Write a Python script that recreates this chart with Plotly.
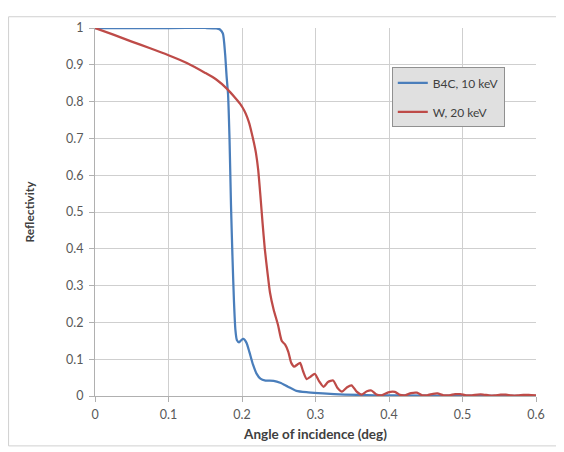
import plotly.graph_objects as go

# ---- data ----
b4c_x = [0.000, 0.100, 0.150, 0.165, 0.170, 0.174, 0.177, 0.179, 0.181, 0.183, 0.185,
         0.187, 0.189, 0.191, 0.193, 0.196, 0.199, 0.202, 0.206, 0.210, 0.215, 0.220,
         0.225, 0.232, 0.243, 0.252, 0.262, 0.274, 0.290, 0.310, 0.340, 0.380, 0.450, 0.600]
b4c_y = [1.000, 1.000, 1.000, 0.999, 0.996, 0.985, 0.930, 0.870, 0.820, 0.700, 0.520,
         0.380, 0.260, 0.180, 0.152, 0.146, 0.152, 0.155, 0.145, 0.120, 0.085, 0.060,
         0.047, 0.042, 0.041, 0.036, 0.026, 0.014, 0.010, 0.007, 0.004, 0.002, 0.001, 0.0005]

w_x = [0.000, 0.025, 0.050, 0.075, 0.100, 0.125, 0.150, 0.165, 0.180, 0.190, 0.197,
       0.203, 0.207, 0.210, 0.213, 0.216, 0.219, 0.222, 0.225, 0.228, 0.231, 0.235,
       0.238, 0.243, 0.249,
       0.254, 0.2585, 0.263, 0.267, 0.271, 0.275, 0.279, 0.283, 0.288, 0.293, 0.299,
       0.305, 0.311, 0.317, 0.324, 0.330, 0.336, 0.343, 0.349, 0.356, 0.363, 0.370,
       0.376, 0.383, 0.390, 0.399, 0.408, 0.415, 0.422, 0.430, 0.438, 0.445, 0.452,
       0.460, 0.466, 0.474, 0.482, 0.490, 0.497, 0.505, 0.513, 0.521, 0.528, 0.536,
       0.544, 0.552, 0.559, 0.567, 0.575, 0.583, 0.590, 0.600]
w_y = [1.000, 0.982, 0.963, 0.945, 0.926, 0.905, 0.878, 0.860, 0.834, 0.812, 0.795,
       0.776, 0.758, 0.740, 0.716, 0.690, 0.660, 0.615, 0.545, 0.470, 0.400, 0.330,
       0.282, 0.235, 0.193,
       0.150, 0.140, 0.120, 0.090, 0.080, 0.085, 0.090, 0.068, 0.046, 0.052, 0.060,
       0.040, 0.025, 0.038, 0.042, 0.022, 0.012, 0.024, 0.029, 0.012, 0.004, 0.013,
       0.015, 0.004, 0.002, 0.010, 0.011, 0.003, 0.002, 0.008, 0.009, 0.002, 0.002,
       0.006, 0.007, 0.002, 0.002, 0.005, 0.005, 0.002, 0.002, 0.004, 0.004, 0.0015,
       0.0015, 0.0035, 0.0035, 0.0015, 0.0015, 0.003, 0.003, 0.0015]

series_names = ["B4C, 10 keV", "W, 20 keV"]
x_ticks = [0, 0.1, 0.2, 0.3, 0.4, 0.5, 0.6]
y_ticks = [0, 0.1, 0.2, 0.3, 0.4, 0.5, 0.6, 0.7, 0.8, 0.9, 1]

BLUE = "#4a7ebb"
RED = "#be4b48"
FONT = "Lato, 'Open Sans', sans-serif"

fig = go.Figure()
fig.add_trace(go.Scatter(x=b4c_x, y=b4c_y, mode="lines", name=series_names[0],
                         legendgroup="a",
                         line=dict(color=BLUE, width=2.25, shape="spline", smoothing=0.6)))
fig.add_trace(go.Scatter(x=w_x, y=w_y, mode="lines", name=series_names[1],
                         legendgroup="b",
                         line=dict(color=RED, width=2.25, shape="spline", smoothing=0.6)))

axis_common = dict(
    showgrid=True, gridcolor="#cfcfcf", gridwidth=1,
    showline=True, linecolor="#b0b0b0", linewidth=1,
    ticks="outside", ticklen=5, tickcolor="#b0b0b0",
    tickfont=dict(family=FONT, size=12.5, color="#595959"),
    zeroline=False,
)

fig.update_layout(
    width=556, height=444,
    margin=dict(l=87, r=28, t=12, b=56),
    paper_bgcolor="white", plot_bgcolor="white",
    font=dict(family=FONT, color="#404040"),
    xaxis=dict(range=[0, 0.6], tickvals=x_ticks, ticktext=[str(v) for v in x_ticks],
               ticklabelstandoff=2,
               title=dict(text="<b>Angle of incidence (deg)</b>",
                          font=dict(family=FONT, size=13.5, color="#404040"), standoff=8),
               **axis_common),
    yaxis=dict(range=[0, 1], tickvals=y_ticks, ticktext=[("%g" % v) for v in y_ticks],
               ticklabelstandoff=3,
               title=dict(text="<b>Reflectivity</b>",
                          font=dict(family=FONT, size=12, color="#404040"), standoff=28),
               **axis_common),
    legend=dict(x=0.673, y=0.893, xanchor="left", yanchor="top",
                bgcolor="#e0e0e0", bordercolor="#909090", borderwidth=1,
                font=dict(family=FONT, size=12, color="#404040"),
                traceorder="grouped", tracegroupgap=10),
    showlegend=True,
)

# outer chart-area border
fig.add_shape(type="rect", xref="paper", yref="paper",
              x0=-0.196, x1=1.0476, y0=-0.1356, y1=1.0306,
              line=dict(color="#d0d0d0", width=1), fillcolor="rgba(0,0,0,0)", layer="below")

fig.write_html("out.html")
